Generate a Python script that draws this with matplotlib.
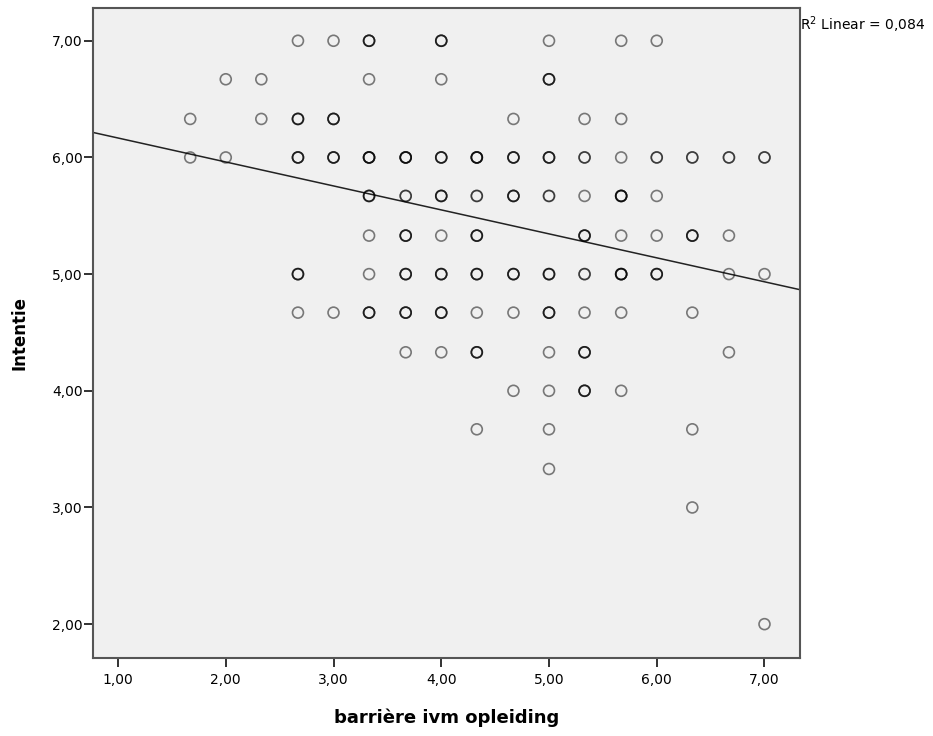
import numpy as np
import matplotlib
matplotlib.use("Agg")
import matplotlib.pyplot as plt

plt.rcParams['font.family'] = ['DejaVu Sans']

# barriere score (x), intentie score (y), number of cases sharing that point
x_vals = [2.67, 3.00, 3.33, 4.00, 5.00, 5.67, 6.00,
          2.00, 2.33, 3.33, 4.00, 5.00,
          1.67, 2.33, 2.67, 3.00, 4.67, 5.33, 5.67,
          1.67, 2.00, 2.67, 3.00, 3.33, 3.67, 4.00, 4.33, 4.67, 5.00, 5.33, 5.67, 6.00, 6.33, 6.67, 7.00,
          3.33, 3.67, 4.00, 4.33, 4.67, 5.00, 5.33, 5.67, 6.00,
          3.33, 3.67, 4.00, 4.33, 5.33, 5.67, 6.00, 6.33, 6.67,
          2.67, 3.33, 3.67, 4.00, 4.33, 4.67, 5.00, 5.33, 5.67, 6.00, 6.67, 7.00,
          2.67, 3.00, 3.33, 3.67, 4.00, 4.33, 4.67, 5.00, 5.33, 5.67, 6.33,
          3.67, 4.00, 4.33, 5.00, 5.33, 6.67,
          4.67, 5.00, 5.33, 5.67,
          4.33, 5.00, 6.33,
          5.00,
          6.33,
          7.00]
y_vals = ([7.00] * 7 + [6.67] * 5 + [6.33] * 7 + [6.00] * 16 + [5.67] * 9 +
          [5.33] * 9 + [5.00] * 12 + [4.67] * 11 + [4.33] * 6 + [4.00] * 4 +
          [3.67] * 3 + [3.33] + [3.00] + [2.00])
n_cases = [1, 1, 3, 3, 1, 1, 1,
           1, 1, 1, 1, 3,
           1, 1, 3, 3, 1, 1, 1,
           1, 1, 3, 3, 4, 4, 3, 4, 3, 3, 2, 1, 2, 2, 2, 2,
           3, 2, 3, 2, 3, 2, 1, 4, 1,
           1, 3, 1, 3, 3, 1, 1, 3, 1,
           3, 1, 3, 3, 3, 3, 3, 2, 4, 3, 1, 1,
           1, 1, 3, 3, 3, 1, 1, 3, 1, 1, 1,
           1, 1, 3, 1, 3, 1,
           1, 1, 3, 1,
           1, 1, 1,
           1,
           1,
           1]

# linear fit (R2 = 0,084)
fit_intercept = 6.372
fit_slope = -0.2054
r_squared = 0.084

x_ticks = [1, 2, 3, 4, 5, 6, 7]
y_ticks = [2, 3, 4, 5, 6, 7]

fig = plt.figure(figsize=(9.33, 7.36), dpi=100)
ax = fig.add_axes([0.0997, 0.106, 0.7578, 0.883])
ax.set_facecolor('#f0f0f0')

# overlapping cases show up darker, so draw each case once
px = np.repeat(x_vals, n_cases)
py = np.repeat(y_vals, n_cases)
ax.scatter(px, py, s=62, facecolors='none', edgecolors='black',
           linewidths=1.2, alpha=0.5, zorder=3)

xlim = (0.768, 7.33)
xs = np.array(xlim)
ax.plot(xs, fit_intercept + fit_slope * xs, color='#222222', lw=1.1, zorder=2)

ax.set_xlim(*xlim)
ax.set_ylim(1.71, 7.28)
ax.set_xticks(x_ticks)
ax.set_yticks(y_ticks)
ax.set_xticklabels([f"{v:.2f}".replace('.', ',') for v in x_ticks])
ax.set_yticklabels([f"{v:.2f}".replace('.', ',') for v in y_ticks])
ax.tick_params(axis='both', direction='out', length=6.5, width=1.3, colors='#222222',
               labelsize=10, labelcolor='black')
ax.tick_params(axis='x', pad=4)
ax.tick_params(axis='y', pad=1)

for s in ax.spines.values():
    s.set_color('#555555')
    s.set_linewidth(1.5)

ax.set_xlabel('barrière ivm opleiding', fontsize=13, fontweight='bold', labelpad=16)
ax.set_ylabel('Intentie', fontsize=12, fontweight='bold', labelpad=17)

ax.text(1.0, 0.975, f"R$^2$ Linear = {r_squared:.3f}".replace('.', ','),
        transform=ax.transAxes, ha='left', va='center', fontsize=10)

fig.savefig('out.png', dpi=100)
